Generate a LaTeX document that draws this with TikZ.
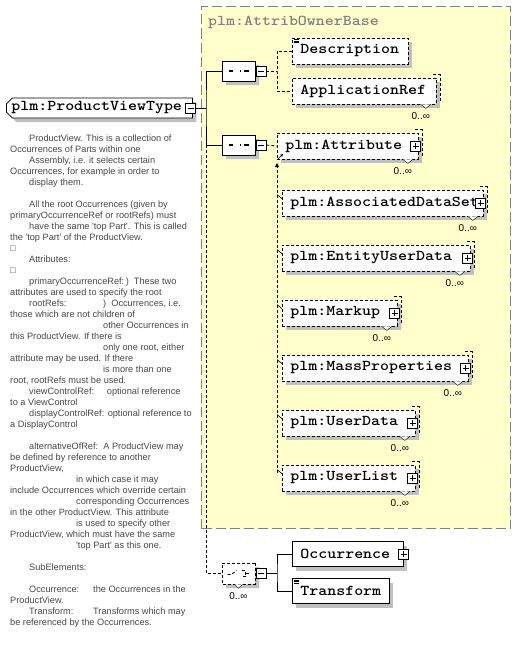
\documentclass[tikz,border=0pt]{standalone}
\usepackage{fontspec}
\usetikzlibrary{arrows.meta,positioning,calc,shapes.misc,shadows}
\newfontfamily\xsdfont{lmmonolt10-bold.otf}[FakeStretch=1.14]
\newfontfamily\docfont{Liberation Sans}
\definecolor{xsdyellow}{HTML}{FFFFCC}
\definecolor{xsdshadow}{HTML}{C0C0C0}
\definecolor{xsdgray}{HTML}{808080}
\definecolor{xsdtext}{HTML}{474747}
\newcommand{\ind}{\hspace*{19pt}}
\newcommand{\sq}{\textquotesingle}
% stacked look of a repeated element: corner of the second box, notch, bounds
\newcommand{\multimark}[1]{%
  \draw[thin,dash pattern=on 3pt off 2pt] ([xshift=-4pt,yshift=3pt]#1.north east) -- ([xshift=3pt,yshift=3pt]#1.north east) -- ([xshift=3pt,yshift=3pt]#1.south east);
  \filldraw[thin,fill=white] ([xshift=-16pt]#1.south east) -- ([xshift=-11pt,yshift=-4pt]#1.south east) -- ([xshift=-6pt]#1.south east);
  \node[mult] at ([xshift=-16pt,yshift=-12pt]#1.south east) {0..∞};}
\newcommand{\docmark}[1]{%
  \foreach \dy in {2,3.5,5} {\draw[line width=0.6pt] ([xshift=2pt,yshift=-\dy pt]#1.north west) -- ++(5,0);}}

\begin{document}
\begin{tikzpicture}[x=1pt,y=-1pt,
  elem/.style={draw,fill=white,line width=0.8pt,anchor=west,minimum height=26pt,inner xsep=8pt,inner ysep=0pt,align=left,
    font=\xsdfont\fontsize{15}{15}\selectfont,general shadow={fill=xsdshadow,shadow xshift=4pt,shadow yshift=-4pt}},
  optelem/.style={elem,dash pattern=on 3pt off 2pt},
  rootelem/.style={elem,chamfered rectangle,chamfered rectangle corners={north west,south west},chamfered rectangle xsep=3pt,
    chamfered rectangle ysep=3pt,minimum height=20pt,inner xsep=2pt},
  seqnode/.style={draw,fill=white,line width=0.8pt,chamfered rectangle,chamfered rectangle xsep=5pt,chamfered rectangle ysep=5pt,
    minimum width=33pt,minimum height=20pt,inner sep=0pt,general shadow={fill=xsdshadow,shadow xshift=4pt,shadow yshift=-4pt}},
  seqsym/.style={path picture={
    \draw[line width=1.2pt] (path picture bounding box.center) ++(-10,0) -- ++(20,0);
    \foreach \sx in {-3.8,0,3.8} {\fill (path picture bounding box.center) ++(\sx,0) +(-1.8,-1.8) rectangle +(1.8,1.8);}}},
  choicesym/.style={path picture={
    \draw[line width=0.8pt] (path picture bounding box.center) ++(-11,1) -- ++(4,0) -- ++(5,-4);
    \foreach \sy in {-3,0,3} {\fill (path picture bounding box.center) ++(1.5,\sy) +(-1.2,-1.2) rectangle +(1.2,1.2);}
    \draw[line width=0.7pt] (path picture bounding box.center) ++(3,-3) -- ++(4,0) -- ++(0,6) -- ++(-4,0);
    \draw[line width=0.7pt] (path picture bounding box.center) ++(7,0) -- ++(4,0);}},
  pmbox/.style={draw,fill=white,minimum size=10pt,inner sep=0pt,line width=0.7pt},
  minusbox/.style={pmbox,path picture={
    \draw ([xshift=2pt]path picture bounding box.west) -- ([xshift=-2pt]path picture bounding box.east);}},
  plusbox/.style={pmbox,path picture={
    \draw ([xshift=2pt]path picture bounding box.west) -- ([xshift=-2pt]path picture bounding box.east);
    \draw ([yshift=-2pt]path picture bounding box.north) -- ([yshift=2pt]path picture bounding box.south);}},
  groupbox/.style={draw=xsdgray,fill=xsdyellow,line width=1pt,dash pattern=on 10pt off 4pt,inner sep=0pt,anchor=north west},
  grouptitle/.style={text=xsdgray,font=\xsdfont\fontsize{15}{15}\selectfont,anchor=west,inner sep=0pt},
  mult/.style={font=\docfont\fontsize{10}{10}\selectfont,inner sep=0pt},
  doc/.style={font=\docfont\fontsize{9.2}{11}\selectfont,text=xsdtext,align=left,inner sep=0pt,anchor=north west},
  fl/.style={line width=0.8pt},
  opt/.style={line width=0.8pt,dash pattern=on 3pt off 2pt}
]
\useasboundingbox (0,0) rectangle (516,645);

\node[groupbox,minimum width=309pt,minimum height=522pt] (grp) at (201,6) {};
\node[grouptitle] (grpt) at (208,22) {plm:AttribOwnerBase};

\node[rootelem,text width=176pt] (pvt) at (6,108) {plm:ProductViewType};
\node[minusbox] (pvtm) at ([xshift=-2pt]pvt.east) {};

\node[seqnode,seqsym] (seqA) at (238.5,71) {};
\node[minusbox] (seqAm) at (261,71) {};
\node[seqnode,seqsym] (seqB) at (238.5,145) {};
\node[minusbox] (seqBm) at (261,145) {};
\node[seqnode,choicesym,dash pattern=on 3pt off 2pt,minimum height=21pt] (choice) at (238.5,573.5) {};
\node[minusbox] (choicem) at (261,573) {};
\filldraw[thin,fill=white] ([xshift=-4pt]choice.south) -- ([yshift=-4pt]choice.south) -- ([xshift=4pt]choice.south);
\node[mult] at ([yshift=-12pt]choice.south) {0..∞};

\node[optelem,text width=100pt] (desc) at (292,51) {Description};
\node[optelem,text width=128pt] (appref) at (292,91) {ApplicationRef};
\node[optelem,text width=125pt] (attrib) at (277,146) {plm:Attribute};
\node[optelem,text width=185pt] (assoc) at (282,203) {plm:AssociatedDataSet};
\node[optelem,text width=172pt] (entity) at (282,258) {plm:EntityUserData};
\node[optelem,text width=99pt] (markup) at (282,313) {plm:Markup};
\node[optelem,text width=170pt] (mass) at (282,368) {plm:MassProperties};
\node[optelem,text width=117pt] (udata) at (282,423) {plm:UserData};
\node[optelem,text width=117pt] (ulist) at (282,478) {plm:UserList};
\node[elem,text width=95pt,minimum height=25pt] (occ) at (292,554) {Occurrence};
\node[elem,text width=81pt,minimum height=25pt] (transf) at (292,591) {Transform};

\foreach \e in {attrib,assoc,entity,markup,mass,udata,ulist}
  {\node[plusbox] (\e-p) at ([xshift=-3pt]\e.east) {};}
\node[plusbox] (occ-p) at (occ.east) {};
\foreach \e in {appref,attrib,assoc,entity,markup,mass,udata,ulist}
  {\multimark{\e}}
\docmark{desc}
\docmark{transf}

\coordinate (trunk) at (206,108);
\coordinate (forkA) at (277,71);
\coordinate (forkC) at (277,573);
\coordinate (subtop) at (277,163);

\draw[fl] (pvtm.east) -- (trunk);
\draw[fl] (seqA.west) -| (trunk) |- (seqB.west);
\draw[opt] (seqB.west -| trunk) |- (choice.west);
\draw[opt] (seqAm.east) -- (forkA);
\draw[opt] (desc.west) -| (forkA) |- (appref.west);
\draw[opt] (seqBm.east) -- (attrib.west);
\draw[opt,-{Triangle[length=4pt,width=4pt]}] (subtop |- ulist.north west) ++(0,8) -- (subtop);
\foreach \e in {assoc,entity,markup,mass,udata,ulist}
  {\draw[fl,line width=0.6pt] (subtop |- \e.north west) ++(0,5) -- ++(5,4);}
\draw[fl,line width=0.6pt,-{Stealth[length=3pt,width=3pt]}] (subtop) ++(1,-4) -- ++(5,-5);
\draw[fl] (choicem.east) -- (forkC);
\draw[fl] (occ.west) -| (forkC) |- (transf.west);

\node[doc] (pvtdoc) at (10,135) {%
\ind ProductView. This is a collection of\\
Occurrences of Parts within one\\
\ind Assembly, i.e. it selects certain\\
Occurrences, for example in order to\\
\ind display them.\\[11pt]
\ind All the root Occurrences (given by\\
primaryOccurrenceRef or rootRefs) must\\
\ind have the same \sq top Part\sq. This is called\\
the \sq top Part\sq\ of the ProductView.\\
□\\
\ind Attributes:\\
□\\
\ind primaryOccurrenceRef:\,)\ \ These two\\
attributes are used to specify the root\\
\ind\makebox[74pt][l]{rootRefs:})\ \ Occurrences, i.e.\\
those which are not children of\\
\hspace*{93pt}other Occurrences in\\
this ProductView. If there is\\
\hspace*{93pt}only one root, either\\
attribute may be used. If there\\
\hspace*{93pt}is more than one\\
root, rootRefs must be used.\\
\ind\rlap{viewControlRef:}\phantom{displayControlRef:} optional reference\\
to a ViewControl\\
\ind displayControlRef: optional reference to\\
a DisplayControl\\[11pt]
\ind alternativeOfRef:\ \ A ProductView may\\
be defined by reference to another\\
ProductView,\\
\hspace*{66pt}in which case it may\\
include Occurrences which override certain\\
\hspace*{66pt}corresponding Occurrences\\
in the other ProductView. This attribute\\
\hspace*{66pt}is used to specify other\\
ProductView, which must have the same\\
\hspace*{66pt}\sq top Part\sq\ as this one.\\[11pt]
\ind SubElements:\\[11pt]
\ind\makebox[64pt][l]{Occurrence:}the Occurrences in the\\
ProductView.\\
\ind\makebox[64pt][l]{Transform:}Transforms which may\\
be referenced by the Occurrences.};
\end{tikzpicture}
\end{document}
